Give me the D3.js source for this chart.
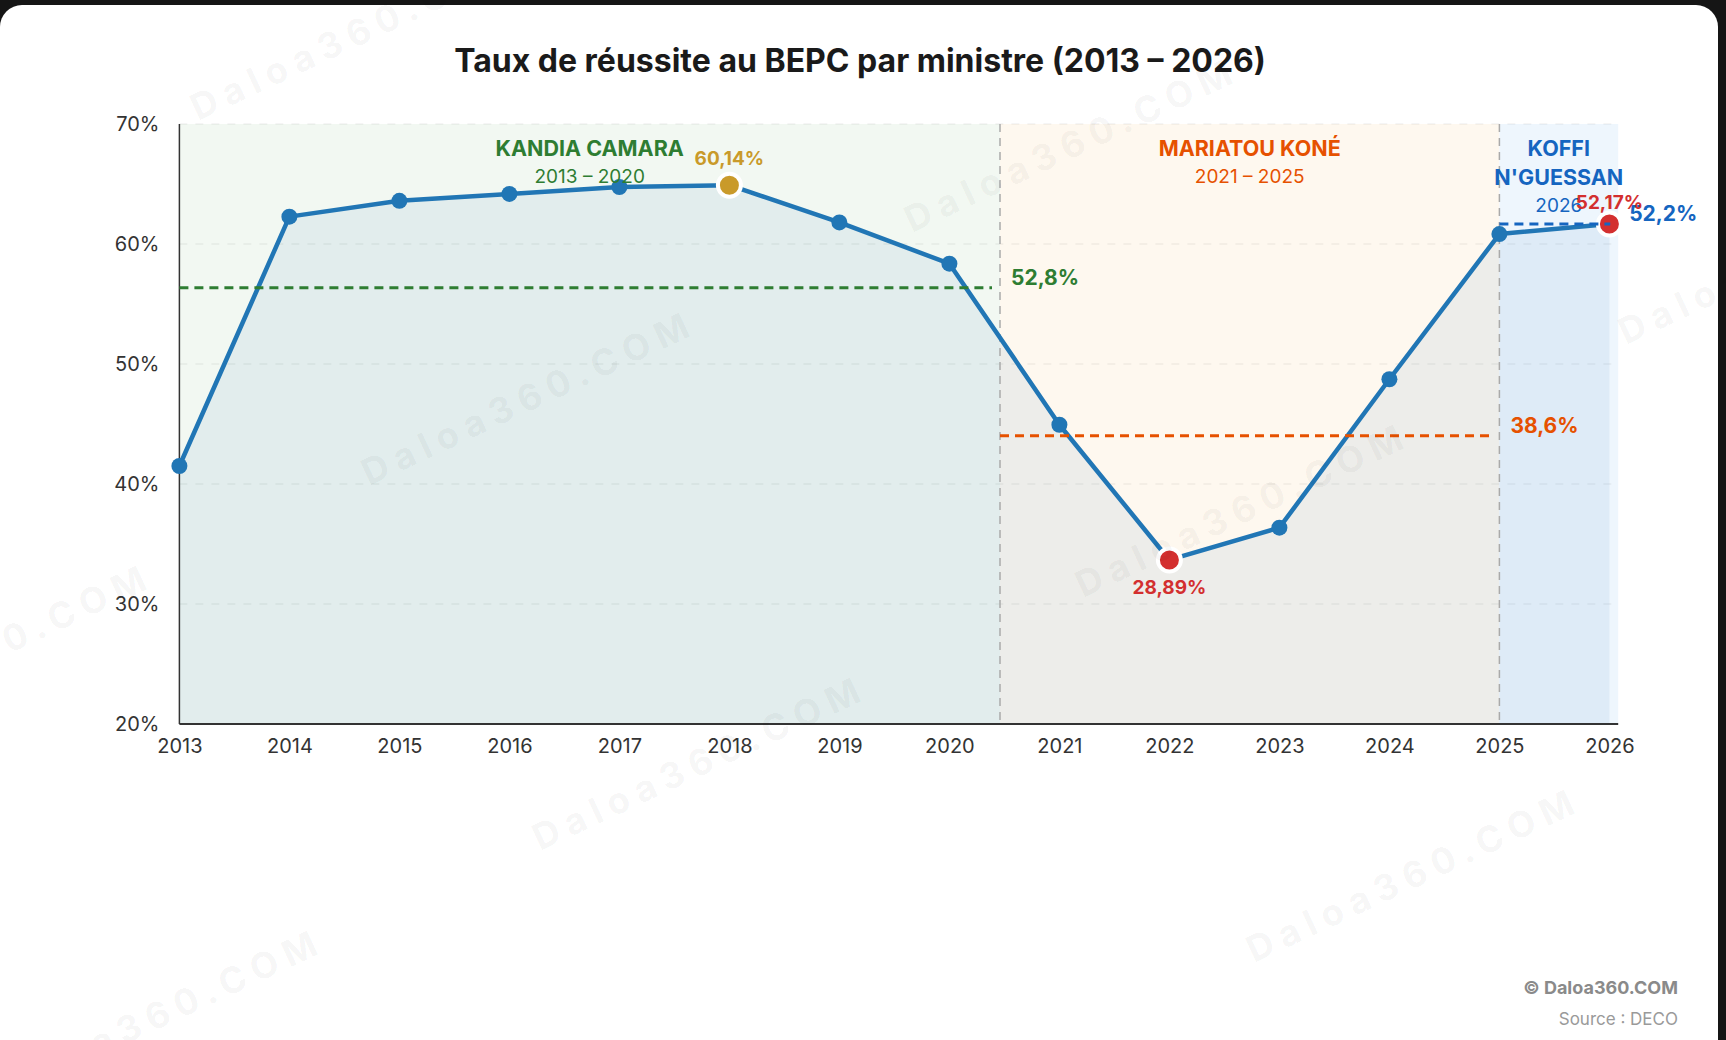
<!DOCTYPE html>
<html>
<head>
<meta charset="utf-8">
<script src="https://cdn.jsdelivr.net/npm/d3@7"></script>
<style>
	body { margin: 0; background: #151515; }
	svg { display: block; font-family: Inter, "Noto Sans", sans-serif; }
</style>
</head>
<body>
<div id="chart"></div>
<script>
// BEPC pass rate, one value per year
const years = [2013, 2014, 2015, 2016, 2017, 2018, 2019, 2020, 2021, 2022, 2023, 2024, 2025, 2026]
const rates = [41.5, 62.28, 63.6, 64.17, 64.75, 64.9, 61.8, 58.36, 44.94, 33.67, 36.36, 48.73, 60.83, 61.67]
const yTicks = [20, 30, 40, 50, 60, 70]

// ministers and their mandates
const ministerNames = [["KANDIA CAMARA"], ["MARIATOU KONÉ"], ["KOFFI", "N'GUESSAN"]]
const ministerPeriods = ["2013 – 2020", "2021 – 2025", "2026"]
const mandateStart = [2013, 2020.46, 2025]
const mandateEnd = [2020.46, 2025, 2026.08]
const averageValues = [56.36, 44.03, 61.67]
const averageLabels = ["52,8%", "38,6%", "52,2%"]

// highlighted points
const highlightYears = [2018, 2022, 2026]
const highlightLabels = ["60,14%", "28,89%", "52,17%"]

const W = 1726
const H = 1040
const margin = { top: 124, left: 179.4, bottom: 316 }
const lineColor = "#2176b5"
const ministerColors = ["#2e7d32", "#e65100", "#1565c0"]
const bandColors = ["#f2f8f2", "#fef8ef", "#eef6fd"]
const highlightColors = ["#c99a2a", "#d32f2f", "#d32f2f"]
const highlightOffsets = [-27, 27, -22]

const x = d3.scaleLinear().domain([2013, 2026]).range([margin.left, margin.left + 1430])
const y = d3.scaleLinear().domain([20, 70]).range([H - margin.bottom, margin.top])
const plotRight = x(2026.08)

const svg = d3.select("#chart").append("svg").attr("width", W).attr("height", H)

// white card
svg.append("rect")
	.attr("x", 0).attr("y", 5)
	.attr("width", 1718).attr("height", H + 20)
	.attr("rx", 22)
	.attr("fill", "#fff")

// title
svg.append("text")
	.attr("x", 860).attr("y", 72)
	.attr("text-anchor", "middle")
	.style("font-size", "32px")
	.style("font-weight", 700)
	.attr("fill", "#1a1a1a")
	.text("Taux de réussite au BEPC par ministre (2013 – 2026)")

const plot = svg.append("g")

// mandate bands
plot.selectAll(".band")
	.data(mandateStart)
	.join("rect")
	.attr("class", "band")
	.attr("x", (d) => x(d))
	.attr("y", y(70))
	.attr("width", (d, i) => x(mandateEnd[i]) - x(d))
	.attr("height", y(20) - y(70))
	.attr("fill", (d, i) => bandColors[i])

// gridlines
plot.selectAll(".grid")
	.data(yTicks.slice(1))
	.join("line")
	.attr("class", "grid")
	.attr("x1", margin.left)
	.attr("x2", plotRight)
	.attr("y1", (d) => y(d))
	.attr("y2", (d) => y(d))
	.attr("stroke", "rgba(0,0,0,0.08)")
	.attr("stroke-width", 1)
	.attr("stroke-dasharray", "8,8")

const points = years.map((yr, i) => ({ year: yr, rate: rates[i] }))

// area under the curve
const area = d3.area()
	.x((d) => x(d.year))
	.y0(y(20))
	.y1((d) => y(d.rate))

plot.append("path")
	.datum(points)
	.attr("d", area)
	.attr("fill", lineColor)
	.attr("fill-opacity", 0.08)

// mandate boundaries
plot.selectAll(".boundary")
	.data(mandateStart.slice(1))
	.join("line")
	.attr("class", "boundary")
	.attr("x1", (d) => x(d))
	.attr("x2", (d) => x(d))
	.attr("y1", y(70))
	.attr("y2", y(20))
	.attr("stroke", "#aaa")
	.attr("stroke-width", 1.5)
	.attr("stroke-dasharray", "8,6")

// axes lines
plot.append("line")
	.attr("x1", margin.left).attr("x2", margin.left)
	.attr("y1", y(70)).attr("y2", y(20))
	.attr("stroke", "#333").attr("stroke-width", 1.5)
plot.append("line")
	.attr("x1", margin.left).attr("x2", plotRight)
	.attr("y1", y(20)).attr("y2", y(20))
	.attr("stroke", "#333").attr("stroke-width", 2)

// tick labels
const yAxis = d3.axisLeft(y).tickValues(yTicks).tickFormat((d) => d + "%").tickSize(0).tickPadding(20)
const xAxis = d3.axisBottom(x).tickValues(years).tickFormat(d3.format("d")).tickSize(0).tickPadding(15)

svg.append("g")
	.attr("transform", `translate(${margin.left},0)`)
	.call(yAxis)
	.call((g) => g.select(".domain").remove())
	.selectAll("text")
	.style("font-size", "20px")
	.style("font-family", "Inter, sans-serif")
	.attr("fill", "#333")

svg.append("g")
	.attr("transform", `translate(0,${y(20)})`)
	.call(xAxis)
	.call((g) => g.select(".domain").remove())
	.selectAll("text")
	.style("font-size", "20px")
	.style("font-family", "Inter, sans-serif")
	.attr("fill", "#333")

// line
const line = d3.line()
	.x((d) => x(d.year))
	.y((d) => y(d.rate))

plot.append("path")
	.datum(points)
	.attr("d", line)
	.attr("fill", "none")
	.attr("stroke", lineColor)
	.attr("stroke-width", 4.5)
	.attr("stroke-linejoin", "round")

// points
plot.selectAll(".dot")
	.data(points.filter((d) => !highlightYears.includes(d.year)))
	.join("circle")
	.attr("class", "dot")
	.attr("cx", (d) => x(d.year))
	.attr("cy", (d) => y(d.rate))
	.attr("r", 8)
	.attr("fill", lineColor)

const highlights = highlightYears.map((yr, i) => ({
	year: yr,
	rate: rates[years.indexOf(yr)],
	label: highlightLabels[i],
	color: highlightColors[i],
	dy: highlightOffsets[i],
}))

plot.selectAll(".hl")
	.data(highlights)
	.join("circle")
	.attr("class", "hl")
	.attr("cx", (d) => x(d.year))
	.attr("cy", (d) => y(d.rate))
	.attr("r", 11.5)
	.attr("fill", (d) => d.color)
	.attr("stroke", "#fff")
	.attr("stroke-width", 4)

// average lines per mandate
plot.selectAll(".avg")
	.data(averageValues)
	.join("line")
	.attr("class", "avg")
	.attr("x1", (d, i) => x(mandateStart[i]))
	.attr("x2", (d, i) => x(mandateEnd[i]) - 8)
	.attr("y1", (d) => y(d))
	.attr("y2", (d) => y(d))
	.attr("stroke", (d, i) => ministerColors[i])
	.attr("stroke-width", 3)
	.attr("stroke-dasharray", "9,6")

plot.selectAll(".avg-label")
	.data(averageValues)
	.join("text")
	.attr("class", "avg-label")
	.attr("x", (d, i) => x(mandateEnd[i]) + 11)
	.attr("y", (d) => y(d) - 10)
	.attr("dy", "0.35em")
	.style("font-size", "21px")
	.style("font-weight", 700)
	.attr("fill", (d, i) => ministerColors[i])
	.text((d, i) => averageLabels[i])

// minister names
ministerNames.forEach((names, i) => {
	const cx = (x(mandateStart[i]) + x(mandateEnd[i])) / 2
	names.forEach((name, j) => {
		plot.append("text")
			.attr("x", cx)
			.attr("y", margin.top + 24 + j * 29)
			.attr("dy", "0.35em")
			.attr("text-anchor", "middle")
			.style("font-size", "21.5px")
			.style("font-weight", 700)
			.attr("fill", ministerColors[i])
			.text(name)
	})
	plot.append("text")
		.attr("x", cx)
		.attr("y", margin.top + 24 + names.length * 28.5)
		.attr("dy", "0.35em")
		.attr("text-anchor", "middle")
		.style("font-size", "19px")
		.attr("fill", ministerColors[i])
		.text(ministerPeriods[i])
})

// highlight labels
plot.selectAll(".hl-label")
	.data(highlights)
	.join("text")
	.attr("class", "hl-label")
	.attr("x", (d) => x(d.year))
	.attr("y", (d) => y(d.rate) + d.dy)
	.attr("dy", "0.35em")
	.attr("text-anchor", "middle")
	.style("font-size", "19px")
	.style("font-weight", 700)
	.attr("fill", (d) => d.color)
	.text((d) => d.label)

// footer
svg.append("text")
	.attr("x", 1678).attr("y", 994)
	.attr("text-anchor", "end")
	.style("font-size", "18px")
	.style("font-weight", 700)
	.attr("fill", "#8a8a8a")
	.text("© Daloa360.COM")
svg.append("text")
	.attr("x", 1678).attr("y", 1025)
	.attr("text-anchor", "end")
	.style("font-size", "17px")
	.attr("fill", "#9a9a9a")
	.text("Source : DECO")

// watermark
const marks = []
for (let i = -2; i <= 3; i++) {
	for (let j = -2; j <= 3; j++) {
		marks.push([198 + i * 543 + j * 171, 121 - i * 253 + j * 365])
	}
}
svg.append("g")
	.style("pointer-events", "none")
	.selectAll("text")
	.data(marks)
	.join("text")
	.attr("transform", (d) => `translate(${d[0]},${d[1]}) rotate(-25)`)
	.style("font-size", "36px")
	.style("font-weight", 700)
	.style("letter-spacing", "8px")
	.attr("fill", "#000")
	.attr("fill-opacity", 0.05)
	.text("Daloa360.COM")
</script>
</body>
</html>
